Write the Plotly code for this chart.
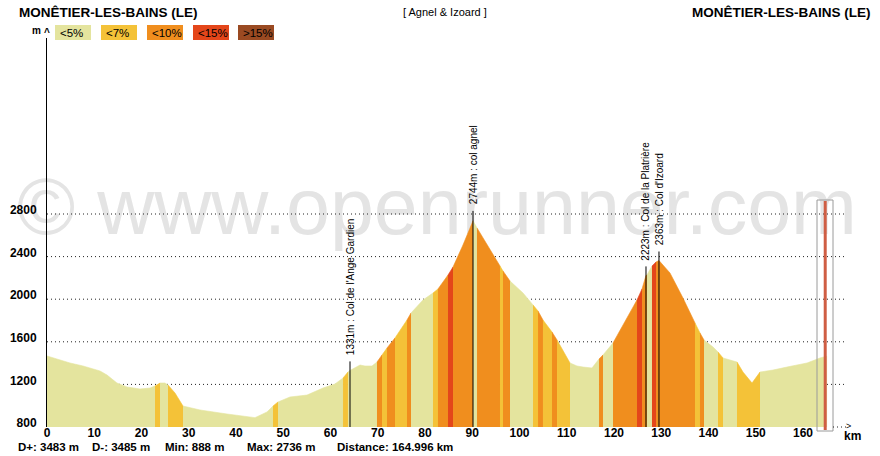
import plotly.graph_objects as go

# ---------------- data ----------------
dist_km = [0.00, 2.75, 4.87, 7.62, 11.22, 12.70, 14.81, 16.93, 19.68, 21.80,
           22.86, 23.92, 24.97, 25.61, 27.09, 28.78, 32.38, 38.10, 42.33, 44.02,
           46.56, 47.83, 48.89, 51.43, 55.03, 58.41, 60.95, 62.65, 63.70, 64.13,
           66.24, 67.30, 68.78, 69.84, 70.90, 71.96, 73.65, 76.19, 77.04, 79.58,
           81.69, 82.75, 84.87, 85.93, 88.04, 90.16, 91.01, 93.76, 95.87, 96.51,
           97.35, 97.99, 100.74, 102.86, 103.92, 104.97, 106.88, 107.94, 110.69, 112.17,
           113.44, 115.34, 116.83, 117.67, 119.79, 122.75, 124.87, 125.93, 126.77, 126.98,
           128.04, 128.89, 129.52, 131.85, 134.60, 137.14, 138.20, 139.05, 140.95, 142.01,
           143.07, 146.03, 147.30, 149.21, 150.90, 153.65, 156.61, 160.85, 163.60, 164.996]
elev_m = [1467, 1429, 1401, 1373, 1326, 1288, 1213, 1176, 1157, 1166,
          1185, 1213, 1213, 1194, 1119, 997, 960, 922, 894, 888,
          941, 997, 1035, 1082, 1100, 1166, 1204, 1260, 1316, 1331,
          1382, 1373, 1373, 1410, 1476, 1542, 1636, 1805, 1870, 1993,
          2058, 2096, 2227, 2302, 2509, 2736, 2669, 2462, 2312, 2265,
          2209, 2171, 2058, 1946, 1889, 1805, 1692, 1617, 1401, 1373,
          1363, 1354, 1439, 1476, 1589, 1833, 1993, 2096, 2223, 2227,
          2312, 2349, 2363, 2246, 2011, 1777, 1683, 1617, 1551, 1504,
          1448, 1410, 1316, 1213, 1316, 1335, 1363, 1401, 1448, 1465]
# gradient class of each segment (0:<5% 1:<7% 2:<10% 3:<15% 4:>15%)
seg_class = [0, 0, 0, 0, 0, 0, 0, 0, 0, 0,
             1, 0, 0, 1, 1, 0, 0, 0, 0, 0,
             0, 1, 0, 0, 0, 0, 0, 1, 0, 0,
             0, 0, 0, 2, 1, 2, 1, 2, 0, 0,
             1, 2, 3, 2, 2, 0, 2, 2, 1, 2,
             2, 0, 0, 1, 2, 1, 2, 1, 0, 0,
             0, 0, 2, 0, 2, 2, 3, 2, 2, 0,
             3, 2, 2, 2, 2, 1, 2, 0, 0, 1,
             0, 1, 1, 1, 0, 0, 0, 0, 0]

class_labels = ["<5%", "<7%", "<10%", "<15%", ">15%"]
class_colors = ["#e4e49e", "#f4c238", "#f08e1e", "#e4461a", "#9a4a22"]

col_names = ["Col de l'Ange Gardien", "col agnel", "Col de la Platrière", "Col d'Izoard"]
col_km = [64.13, 90.16, 126.77, 129.52]
col_elev = [1331, 2744, 2223, 2363]

marker_km = 164.7

x_ticks = [0, 10, 20, 30, 40, 50, 60, 70, 80, 90, 100, 110, 120, 130, 140, 150, 160]
y_ticks = [800, 1200, 1600, 2000, 2400, 2800]
grid_levels = [1200, 1600, 2000, 2400, 2800]

title_left = "MONÊTIER-LES-BAINS (LE)"
title_right = "MONÊTIER-LES-BAINS (LE)"
subtitle = "[ Agnel & Izoard ]"
stats = ["D+: 3483 m", "D-: 3485 m", "Min: 888 m", "Max: 2736 m", "Distance: 164.996 km"]

# ---------------- layout geometry ----------------
W, H = 880, 456
L, R, T, B = 47, 850, 38, 427          # plot area in pixels
KM_PX = 4.725
M_PX = 0.1065
x_range = [0, (R - L) / KM_PX]
y_base = 800
y_range = [y_base, y_base + (B - T) / M_PX]


def fx(px):
    return (px - L) / (R - L)


def fy(py):
    return (B - py) / (B - T)


def px_km(px):
    return (px - L) / KM_PX


def py_m(py):
    return y_base + (B - py) / M_PX


FONT = "Liberation Sans, Arial, sans-serif"
fig = go.Figure()

# watermark (below everything)
fig.add_trace(go.Scatter(x=[px_km(437)], y=[py_m(214)], mode="text",
                         text=["© www.openrunner.com"], cliponaxis=False,
                         textfont=dict(family=FONT, size=79, color="#e4e4e4"),
                         hoverinfo="skip", showlegend=False))

# dotted grid lines
grid_end = px_km(847)
for g in grid_levels:
    fig.add_trace(go.Scatter(x=[0, grid_end], y=[g, g], mode="lines",
                             line=dict(color="#222222", width=1, dash="1px,3px"),
                             hoverinfo="skip", showlegend=False))

# profile coloured by gradient class
i = 0
n = len(seg_class)
while i < n:
    j = i
    while j + 1 < n and seg_class[j + 1] == seg_class[i]:
        j += 1
    xs = dist_km[i:j + 2]
    ys = elev_m[i:j + 2]
    c = class_colors[seg_class[i]]
    fig.add_trace(go.Scatter(x=xs + [xs[-1], xs[0]], y=ys + [y_base, y_base],
                             mode="lines", fill="toself", fillcolor=c,
                             line=dict(color=c, width=0.6),
                             hoverinfo="skip", showlegend=False))
    i = j + 1

shapes = []
annotations = []

# col markers
for name, k, e in zip(col_names, col_km, col_elev):
    shapes.append(dict(type="line", xref="x", yref="y", x0=k, x1=k, y0=y_base, y1=e + 85,
                       line=dict(color="black", width=1)))
    annotations.append(dict(xref="x", yref="y", x=k, y=e + 125, text=f"{e}m : {name}",
                            textangle=-90, xanchor="center", yanchor="bottom", showarrow=False,
                            font=dict(family=FONT, size=10, color="black")))

# current-position marker
shapes.append(dict(type="rect", xref="x", yref="paper", x0=px_km(817), x1=px_km(833),
                   y0=fy(431), y1=fy(200), line=dict(color="#9a9a9a", width=1)))
shapes.append(dict(type="line", xref="x", yref="paper", x0=marker_km, x1=marker_km,
                   y0=fy(430), y1=fy(201), line=dict(color="#cf5e44", width=3)))

# legend boxes
box_left = [55, 101, 147, 193, 238]
for lbl, col, bx in zip(class_labels, class_colors, box_left):
    shapes.append(dict(type="rect", xref="paper", yref="paper", x0=fx(bx), x1=fx(bx + 36),
                       y0=fy(40), y1=fy(25), line=dict(width=0), fillcolor=col))
    annotations.append(dict(xref="paper", yref="paper", x=fx(bx + 3), y=fy(32.5), text=lbl,
                            xanchor="left", yanchor="middle", showarrow=False,
                            font=dict(family=FONT, size=11.5, color="black")))

# x-axis end: dotted tail, arrow and unit
shapes.append(dict(type="line", xref="paper", yref="paper", x0=fx(833), x1=fx(846),
                   y0=0, y1=0, line=dict(color="#222222", width=1, dash="1px,3px")))
annotations += [
    dict(xref="paper", yref="paper", x=fx(848), y=fy(426), text=">", xanchor="center",
         yanchor="middle", showarrow=False, font=dict(family=FONT, size=9, color="black")),
    dict(xref="paper", yref="paper", x=fx(852), y=fy(436), text="km", xanchor="center",
         yanchor="middle", showarrow=False,
         font=dict(family=FONT, size=12, color="black", weight="bold")),
    dict(xref="paper", yref="paper", x=fx(36), y=fy(31), text="m", xanchor="center",
         yanchor="middle", showarrow=False,
         font=dict(family=FONT, size=10, color="black", weight="bold")),
    dict(xref="paper", yref="paper", x=fx(47), y=fy(32), text="^", xanchor="center",
         yanchor="middle", showarrow=False,
         font=dict(family=FONT, size=10, color="black", weight="bold")),
    dict(xref="paper", yref="paper", x=fx(17), y=fy(12), text=title_left, xanchor="left",
         yanchor="middle", showarrow=False,
         font=dict(family=FONT, size=13.5, color="black", weight="bold")),
    dict(xref="paper", yref="paper", x=fx(873), y=fy(12), text=title_right, xanchor="right",
         yanchor="middle", showarrow=False,
         font=dict(family=FONT, size=13.5, color="black", weight="bold")),
    dict(xref="paper", yref="paper", x=fx(445), y=fy(12), text=subtitle, xanchor="center",
         yanchor="middle", showarrow=False, font=dict(family=FONT, size=11, color="black")),
]

stat_x = [16, 90, 163, 245, 335]
for s, sx in zip(stats, stat_x):
    annotations.append(dict(xref="paper", yref="paper", x=fx(sx), y=fy(447), text=s,
                            xanchor="left", yanchor="middle", showarrow=False,
                            font=dict(family=FONT, size=11.5, color="black", weight="bold")))

fig.update_layout(
    width=W, height=H,
    margin=dict(l=L, r=W - R, t=T, b=H - B, pad=0),
    paper_bgcolor="white", plot_bgcolor="white",
    showlegend=False,
    shapes=shapes, annotations=annotations,
    xaxis=dict(range=x_range, showgrid=False, zeroline=False, showline=False,
               tickvals=x_ticks, ticktext=[str(t) for t in x_ticks], ticks="",
               ticklabelstandoff=-3, automargin=False,
               tickfont=dict(family=FONT, size=12, color="black", weight="bold")),
    yaxis=dict(range=y_range, showgrid=False, zeroline=False, showline=True,
               linecolor="black", linewidth=1, tickvals=y_ticks,
               ticktext=[str(t) for t in y_ticks], ticks="", ticklabelstandoff=7,
               ticklabelshift=-4, automargin=False,
               tickfont=dict(family=FONT, size=12, color="black", weight="bold")),
)

fig.write_html(
    "out.html",
    config={"displayModeBar": False},
    post_script="document.body.style.margin='0';document.body.style.padding='0';"
                "document.body.style.overflow='hidden';",
)
